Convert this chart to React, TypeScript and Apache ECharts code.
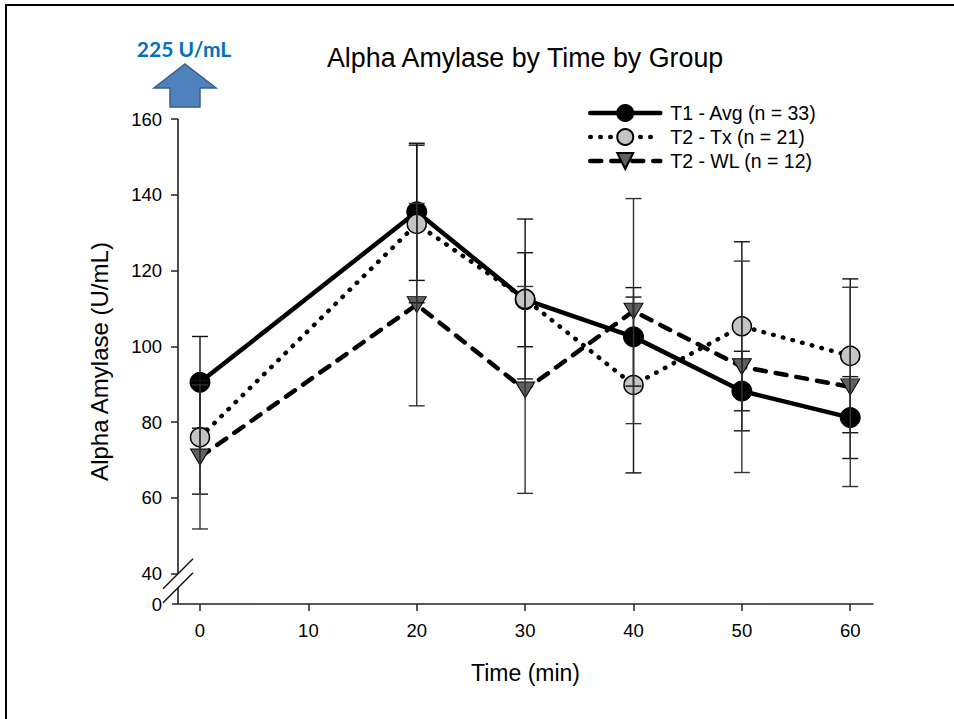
import React, { useEffect, useRef } from "react";
import * as echarts from "echarts";

const timePoints = [0, 20, 30, 40, 50, 60];
const xTickValues = [0, 10, 20, 30, 40, 50, 60];
const yTickValues = [40, 60, 80, 100, 120, 140, 160];
const seriesNames = ["T1 - Avg (n = 33)", "T2 - Tx (n = 21)", "T2 - WL (n = 12)"];

const t1Mean = [90.5, 135.5, 112.3, 102.5, 88.2, 81.2];
const t1Err = [12.1, 18.1, 12.4, 13.0, 10.5, 10.8];
const txMean = [76.0, 132.3, 112.5, 89.8, 105.3, 97.5];
const txErr = [15.0, 20.8, 21.1, 23.2, 22.3, 20.3];
const wlMean = [70.8, 111.0, 88.5, 109.3, 94.6, 89.3];
const wlErr = [19.0, 26.7, 27.3, 29.7, 27.9, 26.3];

const X_MIN = -2.03;
const X_MAX = 62.1;
const Y_MIN = 32;
const Y_MAX = 160;

const FONT = "Liberation Sans, Arial, sans-serif";

function errorSeries(name: string, means: number[], errs: number[], color: string) {
  return {
    type: "custom",
    name: name + " err",
    z: 5,
    silent: true,
    data: timePoints.map((x, i) => [x, means[i] - errs[i], means[i] + errs[i]]),
    renderItem: (params: any, api: any) => {
      const x = api.value(0);
      const lo = api.coord([x, api.value(1)]);
      const hi = api.coord([x, api.value(2)]);
      const w = 8;
      const st = { stroke: color, lineWidth: 1.4 };
      return {
        type: "group",
        children: [
          { type: "line", shape: { x1: lo[0], y1: lo[1], x2: hi[0], y2: hi[1] }, style: st },
          { type: "line", shape: { x1: lo[0] - w, y1: lo[1], x2: lo[0] + w, y2: lo[1] }, style: st },
          { type: "line", shape: { x1: hi[0] - w, y1: hi[1], x2: hi[0] + w, y2: hi[1] }, style: st },
        ],
      };
    },
  };
}

export default function App() {
  const ref = useRef<HTMLDivElement>(null);
  useEffect(() => {
    const chart = echarts.init(ref.current!, null, { renderer: "svg" });
    const option: any = {
      animation: false,
      backgroundColor: "#ffffff",
      textStyle: { fontFamily: FONT },
      title: {
        text: "Alpha Amylase by Time by Group",
        left: 327,
        top: 44,
        padding: 0,
        textStyle: { fontFamily: FONT, fontSize: 26.8, fontWeight: "normal", color: "#000" },
      },
      legend: {
        data: seriesNames,
        orient: "vertical",
        left: 583,
        top: 98,
        itemWidth: 70,
        itemHeight: 20,
        itemGap: 4,
        lineStyle: { width: 4.5, cap: "round" },
        textStyle: { fontFamily: FONT, fontSize: 19.5, color: "#000", padding: [0, 0, 0, 5] },
      },
      grid: { left: 178, right: 81, top: 119, bottom: 115, containLabel: false },
      xAxis: {
        type: "value",
        min: X_MIN,
        max: X_MAX,
        name: "Time (min)",
        nameLocation: "middle",
        nameGap: 57,
        nameTextStyle: { fontFamily: FONT, fontSize: 23, color: "#000" },
        axisLine: { show: true, onZero: false, lineStyle: { color: "#222", width: 1.5 } },
        axisTick: { show: true, customValues: xTickValues, length: 7, lineStyle: { color: "#222", width: 1.5 } },
        axisLabel: { customValues: xTickValues, fontFamily: FONT, fontSize: 18.5, color: "#000", margin: 17 },
        splitLine: { show: false },
      },
      yAxis: {
        type: "value",
        min: Y_MIN,
        max: Y_MAX,
        name: "Alpha Amylase (U/mL)",
        nameLocation: "middle",
        nameGap: 67,
        nameTextStyle: { fontFamily: FONT, fontSize: 24, color: "#000" },
        axisLine: { show: false, onZero: false },
        axisTick: { show: true, customValues: yTickValues, length: 7, lineStyle: { color: "#222", width: 1.5 } },
        axisLabel: {
          customValues: [Y_MIN, ...yTickValues],
          fontFamily: FONT,
          fontSize: 18.5,
          color: "#000",
          margin: 16,
          formatter: (v: number) => (v === Y_MIN ? "0" : String(v)),
        },
        splitLine: { show: false },
      },
      series: [
        {
          name: seriesNames[0],
          type: "line",
          z: 2,
          data: timePoints.map((x, i) => [x, t1Mean[i]]),
          symbol: "circle",
          symbolSize: 20,
          lineStyle: { color: "#000", width: 4.5, type: "solid" },
          itemStyle: { color: "#000", borderColor: "#000", borderWidth: 1 },
        },
        {
          name: seriesNames[1],
          type: "line",
          z: 3,
          data: timePoints.map((x, i) => [x, txMean[i]]),
          symbol: "circle",
          symbolSize: 19,
          lineStyle: { color: "#000", width: 4.5, type: [0.5, 9.5], cap: "round" },
          itemStyle: { color: "#c4c4c4", borderColor: "#000", borderWidth: 1.5 },
        },
        {
          name: seriesNames[2],
          type: "line",
          z: 4,
          data: timePoints.map((x, i) => [x, wlMean[i]]),
          symbol: "triangle",
          symbolRotate: 180,
          symbolSize: [19, 16],
          lineStyle: { color: "#000", width: 4.5, type: [11, 10], cap: "round" },
          itemStyle: { color: "#606060", borderColor: "#000", borderWidth: 1 },
        },
        errorSeries(seriesNames[0], t1Mean, t1Err, "#111"),
        errorSeries(seriesNames[1], txMean, txErr, "#111"),
        errorSeries(seriesNames[2], wlMean, wlErr, "#333"),
      ],
    };
    chart.setOption(option);

    const p = (x: number, y: number) => chart.convertToPixel({ gridIndex: 0 }, [x, y]) as number[];
    const top = p(X_MIN, Y_MAX);
    const at40 = p(X_MIN, 40);
    const bottom = p(X_MIN, Y_MIN);
    const ax = top[0];
    const gapY = 14;
    const s = 15;
    const axisStyle = { stroke: "#111", lineWidth: 1.5 };

    chart.setOption({
      graphic: [
        {
          id: "frame",
          type: "rect",
          shape: { x: 6, y: 5, width: 2000, height: 2000 },
          style: { fill: "none", stroke: "#000", lineWidth: 2 },
          silent: true,
        },
        { id: "yaxis1", type: "line", shape: { x1: ax, y1: top[1], x2: ax, y2: at40[1] }, style: axisStyle },
        { id: "yaxis2", type: "line", shape: { x1: ax, y1: at40[1] + gapY, x2: ax, y2: bottom[1] }, style: axisStyle },
        { id: "xaxisExt", type: "line", shape: { x1: ax - 6, y1: bottom[1], x2: ax, y2: bottom[1] }, style: { stroke: "#222", lineWidth: 1.5 } },
        { id: "slash1", type: "line", shape: { x1: ax - s, y1: at40[1] + s, x2: ax + s, y2: at40[1] - s }, style: axisStyle },
        {
          id: "slash2",
          type: "line",
          shape: { x1: ax - s, y1: at40[1] + gapY + s, x2: ax + s, y2: at40[1] + gapY - s },
          style: axisStyle,
        },
        {
          id: "arrow",
          type: "polygon",
          shape: {
            points: [
              [185, 64],
              [216, 88],
              [200, 88],
              [200, 107],
              [170, 107],
              [170, 88],
              [154, 88],
            ],
          },
          style: { fill: "#4F81BD", stroke: "#385D8A", lineWidth: 1.5 },
        },
        {
          id: "note",
          type: "text",
          x: 184,
          y: 48,
          style: {
            text: "225 U/mL",
            fill: "#0070C0",
            font: "bold 21px Lato, 'Open Sans', sans-serif",
            textAlign: "center",
            textVerticalAlign: "middle",
          },
        },
      ],
    });
    return () => chart.dispose();
  }, []);
  return (
    <div
      ref={ref}
      style={{ position: "absolute", left: 0, top: 0, width: 954, height: 719, background: "#fff" }}
    />
  );
}
